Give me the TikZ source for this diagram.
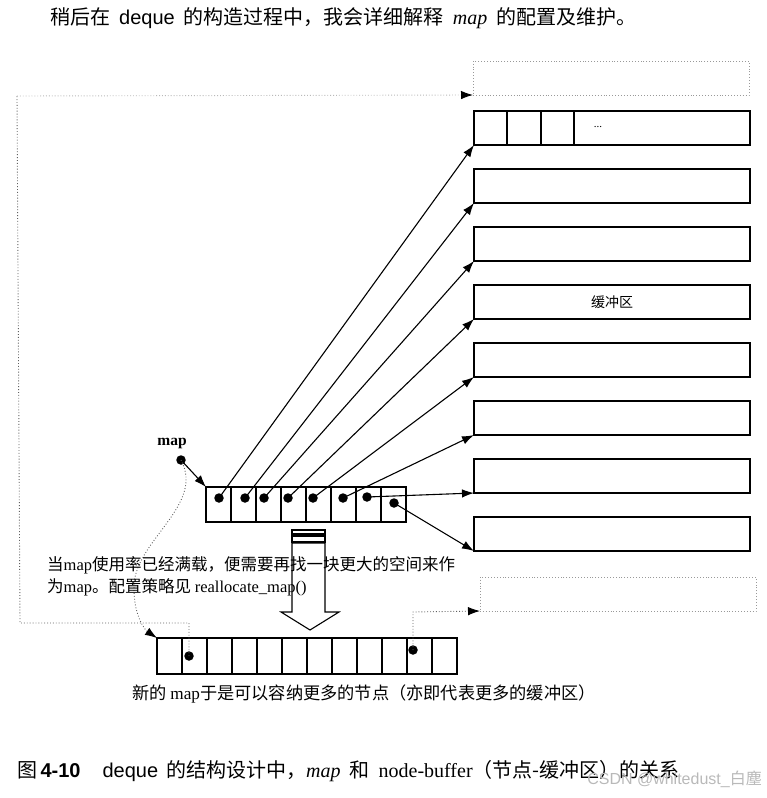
\documentclass[tikz,border=0pt]{standalone}
\usepackage{fontspec}
\setmainfont{Liberation Serif}
\newfontfamily\cjk{Noto Sans CJK SC}
\newfontfamily\lsans{Liberation Sans}
\usetikzlibrary{arrows.meta}
\tikzset{
  buf/.style={draw, line width=1.2pt, minimum width=276pt, minimum height=34pt, inner sep=0pt, outer sep=0pt, anchor=north west},
  dbuf/.style={draw=gray!80, dotted, line width=0.9pt, minimum width=276pt, minimum height=34pt, inner sep=0pt, outer sep=0pt, anchor=north west},
  cell/.style={draw, line width=1.1pt, minimum width=25pt, minimum height=35pt, inner sep=0pt, outer sep=0pt, anchor=north west},
  pdot/.style={circle, fill=black, inner sep=0pt, minimum size=9.5pt},
  ptr/.style={-{Latex[length=12pt,width=8.5pt]}, line width=1.1pt},
  dptr/.style={dotted, draw=gray!75!black, line width=0.9pt, -{Latex[length=12pt,width=8.5pt,black,fill=black]}},
  dline/.style={dotted, draw=gray!75!black, line width=0.9pt},
  txt/.style={anchor=west, inner sep=0pt, font=\fontsize{#1}{#1}\selectfont},
}
\begin{document}
\begin{tikzpicture}[x=1pt,y=-1pt]
\useasboundingbox (0,0) rectangle (766,798);
% top text
\node[txt=20] (toptext) at (50,18) {\cjk 稍后在\hspace{0.45em}{\lsans deque}\hspace{0.45em}的构造过程中，我会详细解释\hspace{0.45em}{\rmfamily\itshape map}\hspace{0.45em}的配置及维护。};
% buffers
\node[dbuf] (btop) at (473,61) {};
\foreach \i in {1,...,8} {
  \node[buf] (b\i) at (474,{111+58*(\i-1)}) {};
}
\node[dbuf] (bbot) at (480,577) {};
\draw[line width=1.1pt] (507,111) -- (507,145) (541,111) -- (541,145) (574,111) -- (574,145);
\node[font=\fontsize{11}{11}\selectfont] (dots) at (598,127) {...};
\node[font=\fontsize{14}{14}\selectfont\cjk] (buftxt) at (612,302) {缓冲区};
% map
\foreach \i in {0,...,7} {
  \node[cell] (m\i) at ({206+25*\i},487) {};
}
\node[font=\fontsize{15.5}{15.5}\selectfont\bfseries] (maplabel) at (172,443) {map};
\node[pdot] (mapdot) at (181,460) {};
\node[pdot] (d1) at (219,498) {};
\node[pdot] (d2) at (245,498) {};
\node[pdot] (d3) at (264,498) {};
\node[pdot] (d4) at (288,498) {};
\node[pdot] (d5) at (313,498) {};
\node[pdot] (d6) at (343,498) {};
\node[pdot] (d7) at (367,497) {};
\node[pdot] (d8) at (394,503) {};
\draw[ptr] (mapdot.center) -- (m0.north west);
\foreach \i in {1,...,8} {
  \draw[ptr] (d\i.center) -- (b\i.south west);
}
% new map
\foreach \i in {0,...,11} {
  \node[cell, minimum height=36pt] (n\i) at ({157+25*\i},638) {};
}
\node[pdot] (e1) at (189,656) {};
\node[pdot] (e2) at (413,650) {};
% hollow arrow
\draw[line width=1.1pt, fill=white] (292,530) rectangle (325,534);
\draw[line width=1.1pt, fill=white] (292,536) rectangle (325,542);
\draw[line width=1.1pt, fill=white] (292,543) -- (325,543) -- (325,612) -- (339,612) -- (310,630) -- (281,612) -- (292,612) -- cycle;
% dotted connections
\coordinate (c1) at (189,623);
\coordinate (c2) at (20,623);
\coordinate (c3) at (17,96);
\draw[dline] (e1.center) -- (c1) -- (c2) -- (c3);
\draw[dotted, draw=gray!55, line width=0.9pt, -{Latex[length=12pt,width=8.5pt,black,fill=black]}] (c3) -- (btop.south west);
\coordinate (c4) at (413,612);
\draw[dptr] (e2.center) -- (c4) -- (bbot.south west);
\draw[dptr] (mapdot.center) .. controls (205,505) and (136,540) .. (134,585) .. controls (133,615) and (145,630) .. (n0.north west);
% texts
\node[txt=16.5] (t1) at (47,565) {\cjk 当{\rmfamily map}使用率已经满载，便需要再找一块更大的空间来作};
\node[txt=16.5] (t2) at (47,587) {\cjk 为{\rmfamily map}。配置策略见 {\rmfamily reallocate\_map()}};
\node[txt=17.2] (t3) at (132,694) {\cjk 新的 {\rmfamily map}于是可以容纳更多的节点（亦即代表更多的缓冲区）};
\node[txt=20] (cap) at (17,771) {\cjk 图\,{\lsans\bfseries 4-10}\hspace{1.1em}{\lsans deque}\hspace{0.4em}的结构设计中，{\rmfamily\itshape map}\hspace{0.45em}和\hspace{0.45em}{\rmfamily node-buffer}（节点-缓冲区）的关系};
\node[anchor=east, inner sep=0pt, text=gray!55, font=\fontsize{16}{16}\selectfont] (wm) at (762,779) {\lsans CSDN @whitedust\_{\cjk 白塵}};
\end{tikzpicture}
\end{document}
